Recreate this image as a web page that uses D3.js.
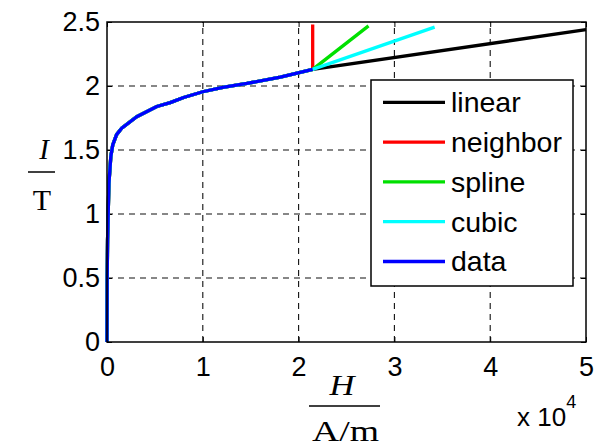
<!DOCTYPE html>
<html>
<head>
<meta charset="utf-8">
<script src="https://cdn.jsdelivr.net/npm/d3@7"></script>
<style>
  body { margin: 0; background: #fff; }
  svg { display: block; }
  .tick text { font-family: "Liberation Sans", Arial, sans-serif; }
</style>
</head>
<body>
<svg></svg>
<script>
// measured B-H curve (H in units of 1e4 A/m, B in T)
var dataH = [0, 0.002, 0.006, 0.02, 0.04, 0.06, 0.1, 0.153, 0.31, 0.52, 0.66, 0.80, 1.00, 1.21, 1.46, 1.81, 2.147];
var dataB = [0, 0.5, 0.8, 1.24, 1.45, 1.54, 1.62, 1.67, 1.76, 1.84, 1.87, 1.91, 1.955, 1.99, 2.02, 2.07, 2.13];

// extrapolated end point of each interpolation method
var methods = ["linear", "neighbor", "spline", "cubic"];
var methodEndH = [5.0, 2.147, 2.73, 3.42];
var methodEndB = [2.44, 2.48, 2.47, 2.46];
var colors = ["#000000", "#ff0000", "#00e000", "#00ffff"];
var dataColor = "#0000ff";

var xTicks = [0, 1, 2, 3, 4, 5];
var yTicks = [0, 0.5, 1, 1.5, 2, 2.5];

var width = 605, height = 447;
var pLeft = 107, pRight = 586, pTop = 22, pBottom = 342;

var svg = d3.select("svg").attr("width", width).attr("height", height);

var x = d3.scaleLinear().domain([0, 5]).range([pLeft, pRight]);
var y = d3.scaleLinear().domain([0, 2.5]).range([pBottom, pTop]);

// grid
var grid = svg.append("g")
    .attr("stroke", "#111")
    .attr("stroke-width", 1.1)
    .attr("stroke-dasharray", "6,5");
grid.selectAll(".gx").data(xTicks.slice(1, -1)).enter().append("line")
    .attr("x1", d => x(d)).attr("x2", d => x(d))
    .attr("y1", pBottom).attr("y2", pTop);
grid.selectAll(".gy").data(yTicks.slice(1, -1)).enter().append("line")
    .attr("y1", d => y(d)).attr("y2", d => y(d))
    .attr("x1", pLeft).attr("x2", pRight);

// axes, ticks pointing inwards on all four sides
var fontAxis = '"Liberation Sans", Arial, sans-serif';
function styleAxis(g) {
  g.select(".domain").remove();
  g.selectAll(".tick line").attr("stroke", "#000").attr("stroke-width", 1);
  g.selectAll(".tick text").style("font-size", "27px").attr("fill", "#000");
}
svg.append("g").attr("transform", `translate(0,${pBottom})`)
    .call(d3.axisBottom(x).tickValues(xTicks).tickFormat(d3.format("d")).tickSize(-5).tickPadding(15))
    .call(styleAxis);
svg.append("g").attr("transform", `translate(${pLeft},0)`)
    .call(d3.axisLeft(y).tickValues(yTicks).tickFormat(d => d).tickSize(-5).tickPadding(7))
    .call(styleAxis);
svg.append("g").attr("transform", `translate(0,${pTop})`)
    .call(d3.axisTop(x).tickValues(xTicks).tickFormat("").tickSize(-5))
    .call(styleAxis);
svg.append("g").attr("transform", `translate(${pRight},0)`)
    .call(d3.axisRight(y).tickValues(yTicks).tickFormat("").tickSize(-5))
    .call(styleAxis);

var line = d3.line().x(d => x(d[0])).y(d => y(d[1]));
var dataPts = dataH.map((h, i) => [h, dataB[i]]);

// interpolation lines (data range + extrapolation)
methods.forEach(function(m, i) {
  svg.append("path")
    .datum(dataPts.concat([[methodEndH[i], methodEndB[i]]]))
    .attr("fill", "none")
    .attr("stroke", colors[i])
    .attr("stroke-width", 3.3)
    .attr("d", line);
});
svg.append("path")
    .datum(dataPts)
    .attr("fill", "none")
    .attr("stroke", dataColor)
    .attr("stroke-width", 3.3)
    .attr("stroke-linejoin", "round")
    .attr("d", line);

// box
svg.append("rect")
    .attr("x", pLeft).attr("y", pTop)
    .attr("width", pRight - pLeft).attr("height", pBottom - pTop)
    .attr("fill", "none").attr("stroke", "#000").attr("stroke-width", 1.5);

// legend
var legendNames = methods.concat(["data"]);
var legendColors = colors.concat([dataColor]);
var lg = svg.append("g");
lg.append("rect")
    .attr("x", 371).attr("y", 80).attr("width", 202).attr("height", 206)
    .attr("fill", "#fff").attr("stroke", "#000").attr("stroke-width", 1.5);
var rows = lg.selectAll(".row").data(legendNames).enter().append("g")
    .attr("transform", (d, i) => `translate(0,${102.3 + i * 39.8})`);
rows.append("line")
    .attr("x1", 383).attr("x2", 445)
    .attr("stroke", (d, i) => legendColors[i])
    .attr("stroke-width", 3.3);
rows.append("text")
    .attr("x", 451).attr("dy", "0.35em")
    .style("font-family", fontAxis).style("font-size", "28.5px")
    .text(d => d);

// axis labels
var serif = '"Liberation Serif", "Times New Roman", serif';
svg.append("text").attr("x", 342).attr("y", 395)
    .attr("text-anchor", "middle")
    .style("font-family", serif).style("font-style", "italic").style("font-size", "29px")
    .attr("textLength", 25).attr("lengthAdjust", "spacingAndGlyphs")
    .text("H");
svg.append("line").attr("x1", 309).attr("x2", 380).attr("y1", 406).attr("y2", 406)
    .attr("stroke", "#000").attr("stroke-width", 1.5);
svg.append("text").attr("x", 312).attr("y", 441)
    .style("font-family", serif).style("font-size", "29px")
    .attr("textLength", 67).attr("lengthAdjust", "spacingAndGlyphs")
    .text("A/m");

svg.append("text").attr("x", 44).attr("y", 159)
    .attr("text-anchor", "middle")
    .style("font-family", serif).style("font-style", "italic").style("font-size", "29px")
    .text("I");
svg.append("line").attr("x1", 28).attr("x2", 55).attr("y1", 172).attr("y2", 172)
    .attr("stroke", "#000").attr("stroke-width", 1.5);
svg.append("text").attr("x", 42).attr("y", 210)
    .attr("text-anchor", "middle")
    .style("font-family", serif).style("font-size", "30px")
    .text("T");

// exponent
var ex = svg.append("text").attr("x", 517).attr("y", 426)
    .style("font-family", fontAxis).style("font-size", "26px");
ex.append("tspan").text("x 10");
ex.append("tspan").attr("dy", -18).style("font-size", "18px").text("4");
</script>
</body>
</html>
